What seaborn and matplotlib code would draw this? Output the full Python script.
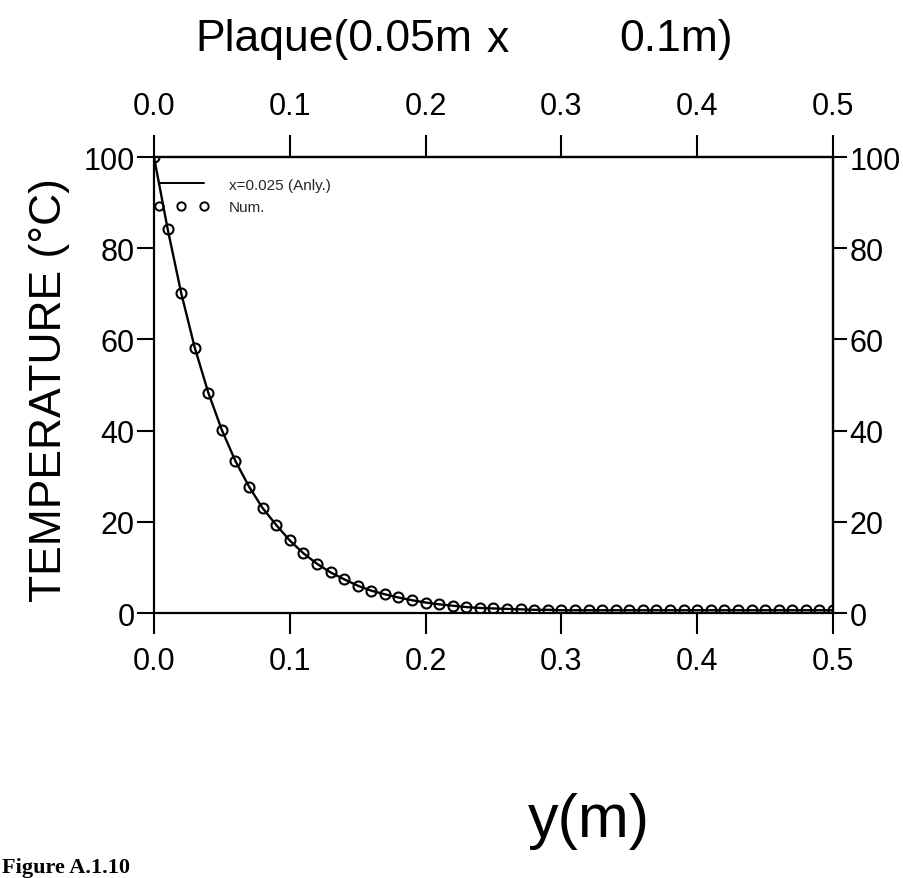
import matplotlib
matplotlib.use("Agg")
import matplotlib.pyplot as plt
from matplotlib.lines import Line2D
import seaborn as sns
import pandas as pd

# ---- data ----
y_pos = [0.00, 0.01, 0.02, 0.03, 0.04, 0.05, 0.06, 0.07, 0.08, 0.09,
         0.10, 0.11, 0.12, 0.13, 0.14, 0.15, 0.16, 0.17, 0.18, 0.19,
         0.20, 0.21, 0.22, 0.23, 0.24, 0.25, 0.26, 0.27, 0.28, 0.29,
         0.30, 0.31, 0.32, 0.33, 0.34, 0.35, 0.36, 0.37, 0.38, 0.39,
         0.40, 0.41, 0.42, 0.43, 0.44, 0.45, 0.46, 0.47, 0.48, 0.49,
         0.50]
T_anly = [100.0, 84.3, 70.2, 58.2, 48.3, 40.1, 33.3, 27.7, 23.0, 19.3,
          15.9, 13.1, 10.8, 8.9, 7.4, 6.0, 4.9, 4.1, 3.4, 2.8,
          2.3, 1.9, 1.6, 1.3, 1.1, 1.0, 0.9, 0.8, 0.7, 0.7,
          0.6, 0.6, 0.6, 0.6, 0.6, 0.6, 0.6, 0.6, 0.6, 0.6,
          0.6, 0.6, 0.6, 0.6, 0.6, 0.6, 0.6, 0.6, 0.6, 0.6,
          0.6]
T_num = [100.0, 84.3, 70.2, 58.2, 48.3, 40.1, 33.3, 27.7, 23.0, 19.3,
         15.9, 13.1, 10.8, 8.9, 7.4, 6.0, 4.9, 4.1, 3.4, 2.8,
         2.3, 1.9, 1.6, 1.3, 1.1, 1.0, 0.9, 0.8, 0.7, 0.7,
         0.6, 0.6, 0.6, 0.6, 0.6, 0.6, 0.6, 0.6, 0.6, 0.6,
         0.6, 0.6, 0.6, 0.6, 0.6, 0.6, 0.6, 0.6, 0.6, 0.6,
         0.6]
x_ticks = [0.0, 0.1, 0.2, 0.3, 0.4, 0.5]
x_ticklabels = ["0.0", "0.1", "0.2", "0.3", "0.4", "0.5"]
t_ticks = [0, 20, 40, 60, 80, 100]
t_ticklabels = ["0", "20", "40", "60", "80", "100"]

title_parts = ["Plaque(0.05m", "x", "0.1m)"]
xlabel_text = "y(m)"
ylabel_text = "TEMPERATURE (°C)"
legend_line = "x=0.025 (Anly.)"
legend_num = "Num."
caption = "Figure A.1.10"

df_anly = pd.DataFrame({"y": y_pos, "T": T_anly})
df_num = pd.DataFrame({"y": y_pos, "T": T_num})

sns.set_theme(style="white")
plt.rcParams["font.family"] = ["Liberation Sans", "DejaVu Sans"]

W, H = 904, 879
fig = plt.figure(figsize=(W / 100, H / 100), dpi=100)
fig.patch.set_facecolor("white")

L, R, TOP, BOT = 154, 833, 158, 614
ax = fig.add_axes([L / W, 1 - BOT / H, (R - L) / W, (BOT - TOP) / H])
ax.set_facecolor("white")

sns.lineplot(data=df_anly, x="y", y="T", ax=ax, color="black", linewidth=1.7,
             estimator=None, sort=False)
sns.lineplot(data=df_num, x="y", y="T", ax=ax, color="black", linestyle="",
             marker="o", markersize=7.2, markerfacecolor="none",
             markeredgecolor="black", markeredgewidth=1.5,
             estimator=None, sort=False)

ax.set_xlim(0, 0.5)
ax.set_ylim(0, 100)
ax.set_xlabel("")
ax.set_ylabel("")
for s in ax.spines.values():
    s.set_visible(True)
    s.set_color("black")
    s.set_linewidth(1.6)

ax.set_xticks(x_ticks)
ax.set_xticklabels(x_ticklabels)
ax.set_yticks(t_ticks)
ax.set_yticklabels(t_ticklabels)
ax.tick_params(axis="x", direction="out", length=15, width=1.5, pad=9,
               labelsize=22, colors="black", bottom=True)
ax.tick_params(axis="y", direction="out", length=12, width=1.5, pad=2,
               labelsize=22, colors="black", left=True)

sec_x = ax.secondary_xaxis("top")
sec_x.set_xticks(x_ticks)
sec_x.set_xticklabels(x_ticklabels)
sec_x.tick_params(direction="out", length=16, width=1.5, pad=10, labelsize=22, colors="black")
sec_x.spines["top"].set_linewidth(1.6)

sec_y = ax.secondary_yaxis("right")
sec_y.set_yticks(t_ticks)
sec_y.set_yticklabels(t_ticklabels)
sec_y.tick_params(direction="out", length=10, width=1.5, pad=2, labelsize=22, colors="black")
sec_y.spines["right"].set_linewidth(1.6)

handles = [Line2D([], [], color="black", linewidth=1.4),
           Line2D([], [], color="black", linestyle="", marker="o", markersize=6,
                  markerfacecolor="none", markeredgecolor="black", markeredgewidth=1.4)]
leg = ax.legend(handles, [legend_line, legend_num], loc="upper left",
                bbox_to_anchor=(0.0, 0.955), frameon=False, fontsize=11,
                handlelength=3.6, handletextpad=1.3, numpoints=3,
                borderaxespad=0.0, borderpad=0.0, labelspacing=0.55)

# title, placed in three pieces to follow the wide spacing of the original
fig.text(195 / W, 1 - 40 / H, title_parts[0], ha="left", va="center",
         fontsize=32, color="black")
fig.text(498 / W, 1 - 40 / H, title_parts[1], ha="center", va="center",
         fontsize=32, color="black")
fig.text(676 / W, 1 - 40 / H, title_parts[2], ha="center", va="center",
         fontsize=32, color="black")
fig.text(589 / W, 1 - 822 / H, xlabel_text, ha="center", va="center",
         fontsize=44, color="black")
fig.text(50 / W, 1 - 390 / H, ylabel_text, ha="center", va="center",
         rotation=90, fontsize=32, color="black")
fig.text(2 / W, 1 - 868 / H, caption, ha="left", va="center", fontsize=16,
         fontweight="bold", family=["Liberation Serif", "DejaVu Serif"], color="black")

fig.savefig("out.png", dpi=100, facecolor="white")
